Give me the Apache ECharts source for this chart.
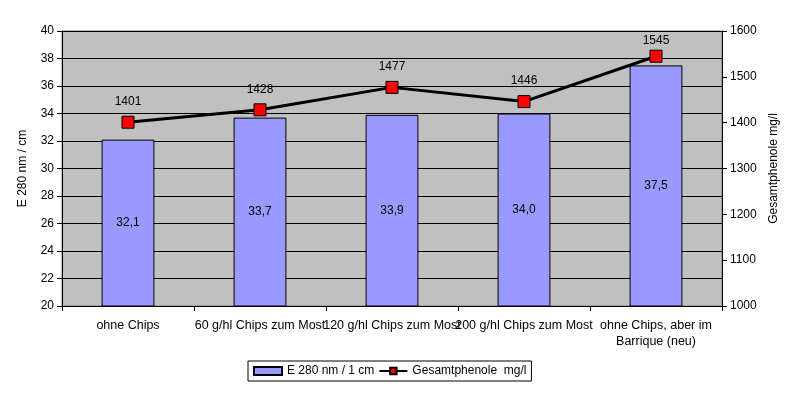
<!DOCTYPE html>
<html><head><meta charset="utf-8">
<script src="https://cdn.jsdelivr.net/npm/echarts@6/dist/echarts.min.js"></script>
<style>html,body{margin:0;padding:0;background:#fff}#c{width:796px;height:393px}</style>
</head><body><div id="c"></div>
<script>
const categories = ['ohne Chips', '60 g/hl Chips zum Most', '120 g/hl Chips zum Most', '200 g/hl Chips zum Most', 'ohne Chips, aber im\nBarrique (neu)'];
const e280 = [32.1, 33.7, 33.9, 34.0, 37.5];
const phenole = [1401, 1428, 1477, 1446, 1545];
const leftTicks = {min: 20, max: 40, interval: 2};
const rightTicks = {min: 1000, max: 1600, interval: 100};
const font = 'Liberation Sans, Arial, sans-serif';
const phenoleData = phenole.map((v, i) => i === phenole.length - 1 ? {value: v, label: {distance: 3}} : v);
const chart = echarts.init(document.getElementById('c'), null, {renderer: 'canvas'});
chart.setOption({
  animation: false,
  backgroundColor: '#fff',
  textStyle: {fontFamily: font, color: '#000'},
  grid: {left: 62, right: 74, top: 31, bottom: 87, show: true, backgroundColor: '#C0C0C0', borderColor: '#808080', borderWidth: 1},
  legend: {
    left: 248, top: 361, padding: [4, 5, 4, 5], borderColor: '#000', borderWidth: 1,
    itemGap: 4, itemWidth: 28, itemHeight: 8,
    textStyle: {fontFamily: font, fontSize: 12, color: '#000'},
    data: [{name: 'E 280 nm / 1 cm', icon: 'rect'}, {name: 'Gesamtphenole  mg/l'}]
  },
  xAxis: {
    type: 'category', data: categories, boundaryGap: true,
    axisLine: {lineStyle: {color: '#000', width: 1}},
    axisTick: {show: true, alignWithLabel: false, length: 5, lineStyle: {color: '#000'}},
    axisLabel: {interval: 0, color: '#000', fontFamily: font, fontSize: 12.5, margin: 12, lineHeight: 16, hideOverlap: false}
  },
  yAxis: [{
    type: 'value', min: leftTicks.min, max: leftTicks.max, interval: leftTicks.interval,
    name: 'E 280 nm / cm', nameLocation: 'middle', nameGap: 33, nameRotate: 90,
    nameTextStyle: {fontFamily: font, fontSize: 12, color: '#000'},
    axisLine: {show: true, lineStyle: {color: '#000'}},
    axisTick: {show: true, length: 5, lineStyle: {color: '#000'}},
    axisLabel: {color: '#000', fontFamily: font, fontSize: 12, margin: 8},
    splitLine: {show: true, lineStyle: {color: '#000', width: 1}}
  }, {
    type: 'value', min: rightTicks.min, max: rightTicks.max, interval: rightTicks.interval,
    name: 'Gesamtphenole mg/l', nameLocation: 'middle', nameGap: 40, nameRotate: 90,
    nameTextStyle: {fontFamily: font, fontSize: 12, color: '#000'},
    axisLine: {show: true, lineStyle: {color: '#000'}},
    axisTick: {show: true, length: 5, lineStyle: {color: '#000'}},
    axisLabel: {color: '#000', fontFamily: font, fontSize: 12, margin: 8, formatter: v => String(v)},
    splitLine: {show: false}
  }],
  series: [{
    name: 'E 280 nm / 1 cm', type: 'bar', data: e280, barWidth: '40%', yAxisIndex: 0,
    itemStyle: {color: '#9999FF', borderColor: '#000', borderWidth: 1},
    label: {show: true, position: 'inside', color: '#000', fontFamily: font, fontSize: 12,
      formatter: p => p.value.toFixed(1).replace('.', ',')}
  }, {
    name: 'Gesamtphenole  mg/l', type: 'line', data: phenoleData, yAxisIndex: 1,
    lineStyle: {color: '#000', width: 3},
    symbol: 'rect', symbolSize: 12,
    itemStyle: {color: '#FF0000', borderColor: '#000', borderWidth: 1},
    label: {show: true, position: 'top', distance: 8, color: '#000', fontFamily: font, fontSize: 12}
  }]
});
</script></body></html>
